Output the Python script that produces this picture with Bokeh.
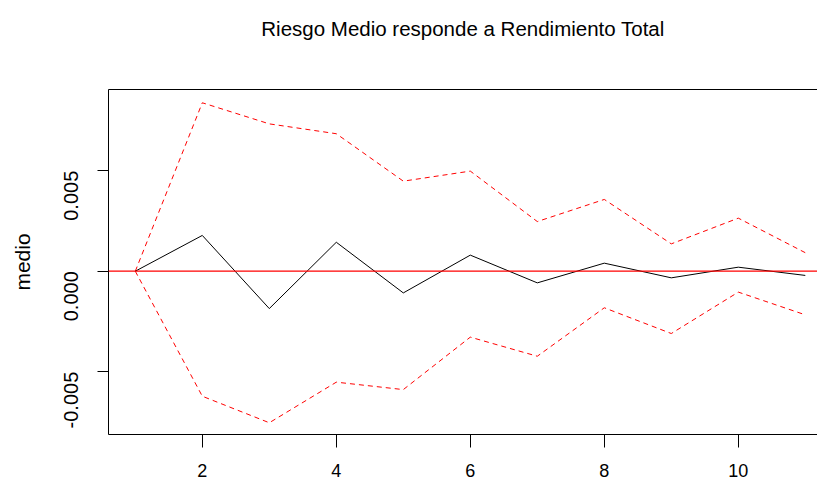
from bokeh.plotting import figure
from bokeh.models import Range1d, FixedTicker, PrintfTickFormatter, LinearAxis, Span
from bokeh.embed import file_html
from bokeh.resources import INLINE
import math

# data
horizon = [1, 2, 3, 4, 5, 6, 7, 8, 9, 10, 11]
irf = [0.0, 0.00178, -0.00186, 0.00144, -0.00108, 0.00080, -0.00058, 0.00040, -0.00033, 0.00020, -0.00021]
upper = [0.0, 0.00838, 0.00733, 0.00684, 0.00448, 0.00498, 0.00247, 0.00357, 0.00136, 0.00264, 0.00092]
lower = [0.0, -0.00622, -0.00754, -0.00552, -0.00589, -0.00328, -0.00423, -0.00182, -0.00310, -0.00104, -0.00217]
x_ticks = [2, 4, 6, 8, 10]
y_ticks = [-0.005, 0.0, 0.005]
title_text = "Riesgo Medio responde a Rendimiento Total"
y_label = "medio"

FONT = "Liberation Sans"

p = figure(width=817, height=485, output_backend="svg", toolbar_location=None,
           x_range=Range1d(0.6, 11.182), y_range=Range1d(-0.008124, 0.00904),
           min_border_left=108, min_border_right=0, min_border_top=89, min_border_bottom=51)
p.background_fill_color = "white"
p.border_fill_color = "white"
p.outline_line_color = None
p.grid.visible = False

# axes
xa = p.xaxis[0]
xa.ticker = FixedTicker(ticks=x_ticks)
xa.minor_tick_line_color = None
xa.major_tick_in = 0
xa.major_tick_out = 13
xa.major_label_standoff = 16
xa.major_label_text_font = FONT
xa.major_label_text_font_size = "18px"
xa.major_label_text_color = "black"
xa.axis_line_color = "black"
xa.major_tick_line_color = "black"

ya = p.yaxis[0]
ya.ticker = FixedTicker(ticks=y_ticks)
ya.formatter = PrintfTickFormatter(format="%.3f")
ya.minor_tick_line_color = None
ya.major_tick_in = 0
ya.major_tick_out = 11
ya.major_label_standoff = 26
ya.major_label_orientation = math.pi / 2
ya.major_label_text_font = FONT
ya.major_label_text_font_size = "20px"
ya.major_label_text_color = "black"
ya.axis_line_color = "black"
ya.major_tick_line_color = "black"
ya.axis_label = y_label
ya.axis_label_text_font = FONT
ya.axis_label_text_font_size = "21px"
ya.axis_label_text_font_style = "normal"
ya.axis_label_text_color = "black"
ya.axis_label_standoff = 21

# top frame line carrying the chart title
top = LinearAxis(ticker=FixedTicker(ticks=[]), axis_line_color="black",
                 major_tick_line_color=None, minor_tick_line_color=None,
                 major_label_text_font_size="0px")
top.axis_label = title_text
top.axis_label_text_font = FONT
top.axis_label_text_font_size = "20.5px"
top.axis_label_text_font_style = "normal"
top.axis_label_text_color = "black"
top.axis_label_standoff = 50
p.add_layout(top, "above")

p.add_layout(Span(location=0, dimension="width", line_color="red", line_width=1.3))

p.line(horizon, upper, line_color="red", line_width=1, line_dash="5 4")
p.line(horizon, lower, line_color="red", line_width=1, line_dash="5 4")
p.line(horizon, irf, line_color="black", line_width=1)

open("out.html", "w").write(file_html(p, INLINE))
